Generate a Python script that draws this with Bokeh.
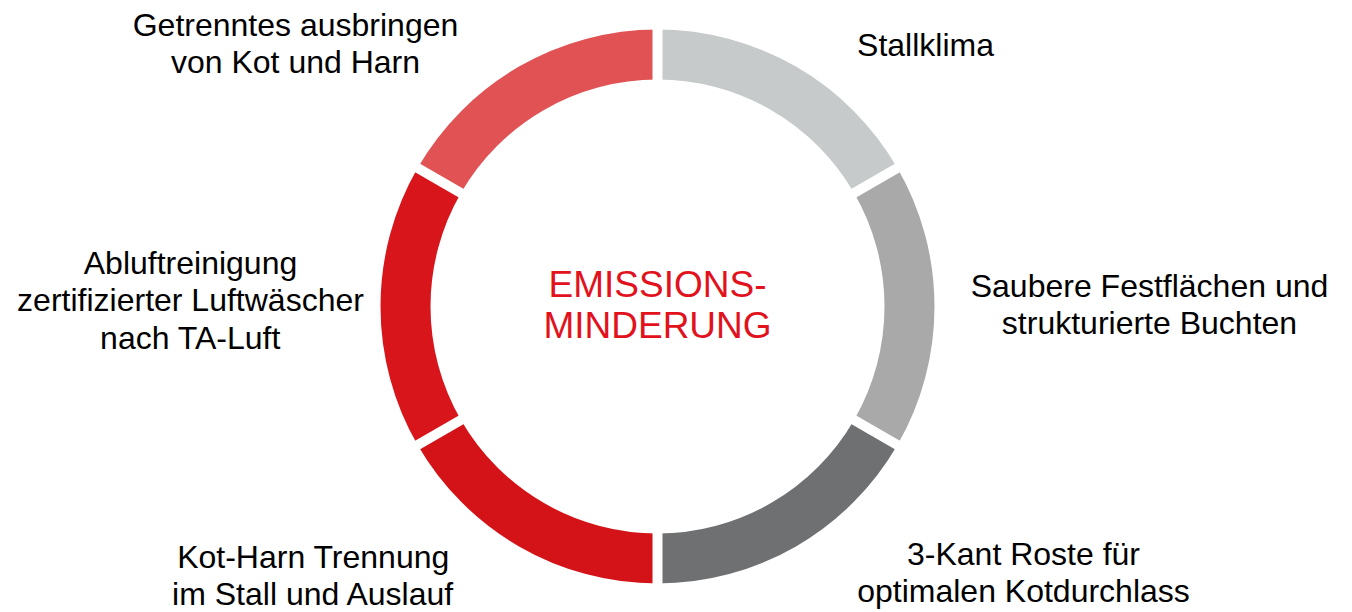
import numpy as np
from bokeh.plotting import figure
from bokeh.models import Range1d
from bokeh.core.properties import value
from bokeh.embed import file_html
from bokeh.resources import INLINE

# ---- data ----
categories = ["Stallklima",
              "Saubere Festflächen und\nstrukturierte Buchten",
              "3-Kant Roste für\noptimalen Kotdurchlass",
              "Kot-Harn Trennung\nim Stall und Auslauf",
              "Abluftreinigung\nzertifizierter Luftwäscher\nnach TA-Luft",
              "Getrenntes ausbringen\nvon Kot und Harn"]
shares = [1, 1, 1, 1, 1, 1]
colors = ["#c6caca", "#a9a9a9", "#6e7072", "#d41318", "#d9151c", "#e05254"]
center_lines = ["EMISSIONS-", "MINDERUNG"]

# label anchor positions (screen px, converted below)
label_x = [925, 1149, 1023, 313, 190, 295]
label_y = [44, 304, 572, 575, 300, 43]

W, H = 1352, 612
p = figure(width=W, height=H, output_backend="svg", toolbar_location=None,
           x_range=Range1d(0, W), y_range=Range1d(0, H),
           min_border=0)
p.axis.visible = False
p.grid.visible = False
p.outline_line_color = None
p.background_fill_color = "white"
p.border_fill_color = "white"

cx, cy = 657, H - 306
r_out, r_in = 277, 227

vals = np.array(shares, dtype=float)
frac = np.cumsum(vals) / vals.sum()
start = np.pi / 2 - np.concatenate([[0], frac[:-1]]) * 2 * np.pi
end = np.pi / 2 - frac * 2 * np.pi

p.annular_wedge(x=cx, y=cy, inner_radius=r_in, outer_radius=r_out,
                start_angle=end, end_angle=start, color=colors, line_color=None)

# white separators at segment boundaries
p.segment(x0=cx + (r_in - 3) * np.cos(start), y0=cy + (r_in - 3) * np.sin(start),
          x1=cx + (r_out + 3) * np.cos(start), y1=cy + (r_out + 3) * np.sin(start),
          line_color="white", line_width=10)

p.text(x=label_x, y=[H - v for v in label_y], text=categories,
       text_align="center", text_baseline="middle",
       text_font=value("Liberation Sans"), text_font_size="32px",
       text_color="black", text_line_height=1.04)

p.text(x=[cx, cx], y=[H - 284, H - 325], text=center_lines,
       text_align="center", text_baseline="middle",
       text_font=value("Liberation Sans"), text_font_size="37px",
       text_color="#e2121d")

open("out.html", "w").write(file_html(p, INLINE))
